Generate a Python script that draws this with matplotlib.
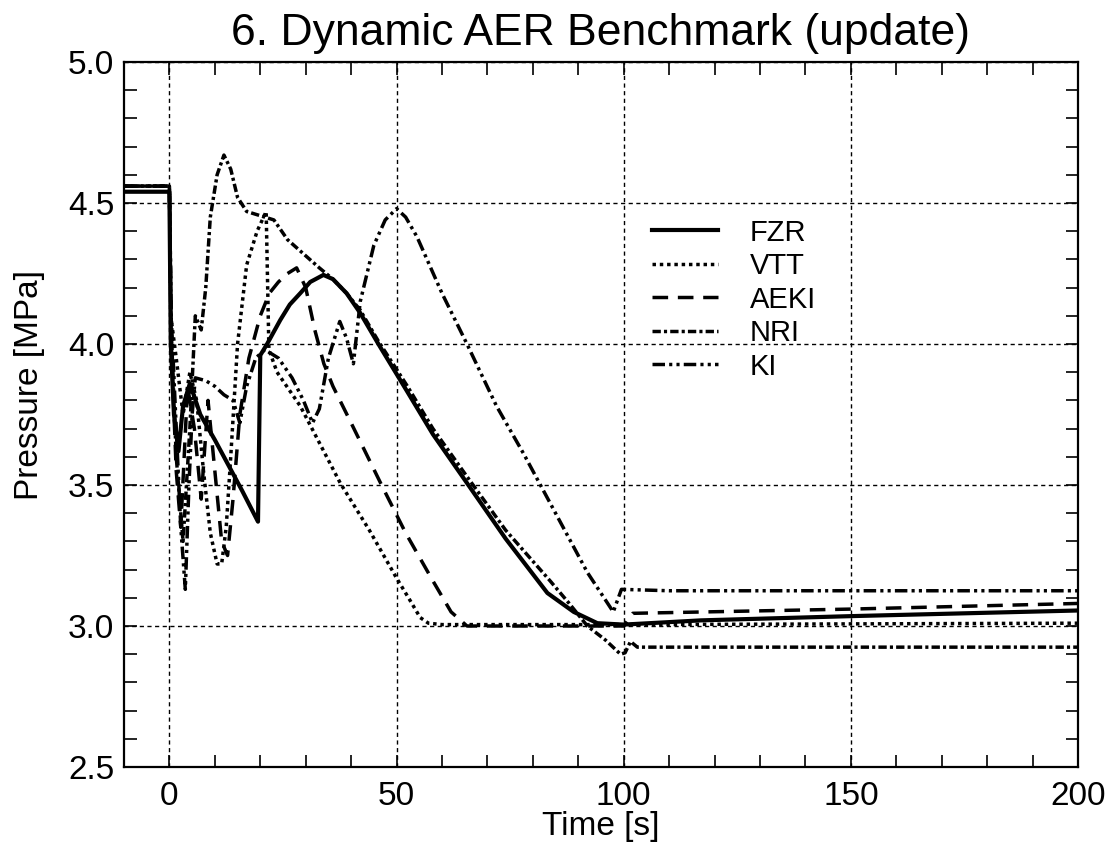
import matplotlib
matplotlib.use("Agg")
import matplotlib.pyplot as plt
from matplotlib.ticker import MultipleLocator

plt.rcParams['font.family'] = ['Liberation Sans', 'DejaVu Sans']

# === DATOS ===
fzr_t = [-10, 0, 0.3, 1.0, 2.0, 3.0, 4.5, 6.8, 10, 13, 16, 19.5, 20.0, 21.5, 24.4, 26.5,
         28.8, 31, 33.9, 36, 39, 42, 46, 52.4, 58, 65.5, 74, 83.2, 89, 94.2, 100, 117, 150, 200]
fzr_p = [4.54, 4.54, 4.0, 3.75, 3.62, 3.78, 3.86, 3.75, 3.66, 3.57, 3.48, 3.37, 3.96, 4.0, 4.085, 4.14,
         4.18, 4.22, 4.245, 4.23, 4.18, 4.11, 4.00, 3.83, 3.68, 3.507, 3.31, 3.117, 3.05, 3.01, 3.005, 3.02, 3.035, 3.055]

vtt_t = [-10, 0, 0.3, 1.5, 3, 4.5, 6, 7.5, 9, 10.5, 11.5, 12.5, 13.5, 15, 17, 19.3, 21.3, 21.9,
         23.7, 28.8, 33, 37.6, 44, 50, 53, 55.2, 57, 60, 100, 200]
vtt_p = [4.56, 4.56, 4.1, 3.95, 3.75, 3.9, 3.8, 3.55, 3.33, 3.22, 3.22, 3.35, 3.6, 4.0, 4.28, 4.40, 4.47, 3.98,
         3.90, 3.78, 3.65, 3.507, 3.34, 3.17, 3.09, 3.03, 3.01, 3.005, 3.005, 3.01]

aeki_t = [-10, 0, 0.4, 1.5, 2.5, 4, 5.5, 7, 8.5, 10, 11.5, 12.8, 14, 15.5, 17.5, 20, 22, 24, 26, 28,
          30, 32, 34, 36, 40, 47, 52, 58, 62, 65.5, 100, 102, 150, 200]
aeki_p = [4.56, 4.56, 4.0, 3.55, 3.35, 3.85, 3.7, 3.45, 3.8, 3.55, 3.3, 3.25, 3.45, 3.75, 3.95, 4.1, 4.18, 4.22, 4.25, 4.27,
          4.2, 4.05, 3.93, 3.85, 3.72, 3.49, 3.33, 3.16, 3.05, 3.0, 3.0, 3.045, 3.06, 3.08]

nri_t = [-10, 0, 0.4, 1.5, 3, 4.5, 5.7, 7, 8, 9, 10.5, 12, 13.5, 15, 17, 19, 21, 23, 26, 29.5, 33, 36, 39,
         42, 46, 52.4, 58, 65.5, 74, 83.8, 88, 92, 96, 99.3, 100.3, 101.5, 103, 200]
nri_p = [4.56, 4.56, 4.05, 3.6, 3.3, 3.7, 4.1, 4.05, 4.2, 4.45, 4.6, 4.67, 4.62, 4.52, 4.47, 4.46, 4.45, 4.44, 4.37, 4.32, 4.27, 4.23, 4.18,
         4.12, 4.01, 3.85, 3.70, 3.53, 3.34, 3.16, 3.08, 3.0, 2.95, 2.90, 2.905, 2.945, 2.925, 2.925]

ki_t = [-10, 0, 0.4, 1.5, 2.5, 3.5, 4.3, 5.0, 5.7, 8, 10, 12, 14, 15.5, 17, 19, 21, 24, 27, 29.5, 31.5, 33, 35,
        37.5, 39, 40.5, 42, 45, 47.5, 50, 52, 54.5, 60, 65.5, 72, 78, 85, 92, 97.7, 99.5, 110, 200]
ki_p = [4.56, 4.56, 4.1, 3.7, 3.35, 3.13, 3.5, 3.75, 3.88, 3.87, 3.85, 3.82, 3.80, 3.72, 3.85, 3.95, 3.98, 3.95, 3.88, 3.8, 3.72, 3.77, 3.95,
        4.08, 4.02, 3.93, 4.15, 4.35, 4.44, 4.48, 4.45, 4.38, 4.18, 4.0, 3.78, 3.61, 3.40, 3.19, 3.05, 3.13, 3.125, 3.125]

# === GRÁFICO ===
fig = plt.figure(figsize=(11.2, 8.59), dpi=100)
ax = fig.add_axes([0.1107, 0.1071, 0.8518, 0.8207])

ax.plot(fzr_t, fzr_p, color='black', linewidth=3.0, linestyle='-', label='FZR')
ax.plot(vtt_t, vtt_p, color='black', linewidth=2.5, linestyle=(0, (1, 1.1)), label='VTT')
ax.plot(aeki_t, aeki_p, color='black', linewidth=2.5, linestyle=(0, (4.5, 2.8)), label='AEKI')
ax.plot(nri_t, nri_p, color='black', linewidth=2.5, linestyle=(0, (2.4, 0.9, 0.9, 0.9)), label='NRI')
ax.plot(ki_t, ki_p, color='black', linewidth=2.5, linestyle=(0, (3.6, 1.2, 0.9, 1.2, 0.9, 1.2)), label='KI')

ax.set_xlim(-10, 200)
ax.set_ylim(2.5, 5.0)
ax.xaxis.set_major_locator(MultipleLocator(50))
ax.xaxis.set_minor_locator(MultipleLocator(10))
ax.yaxis.set_major_locator(MultipleLocator(0.5))
ax.yaxis.set_minor_locator(MultipleLocator(0.1))
ax.yaxis.set_major_formatter(matplotlib.ticker.FormatStrFormatter('%.1f'))

ax.tick_params(which='both', direction='in', top=True, right=True, length=9, width=1.2,
               labelsize=24, color='black')
ax.tick_params(axis='x', pad=10)
ax.tick_params(axis='y', pad=7)
for s in ax.spines.values():
    s.set_linewidth(1.6)

ax.grid(True, which='major', color='black', linestyle=(0, (3, 2.5)), linewidth=1.0)

ax.set_title("6. Dynamic AER Benchmark (update)", fontsize=32, pad=12)
ax.set_xlabel("Time [s]", fontsize=24, labelpad=-1)
ax.set_ylabel("Pressure [MPa]", fontsize=24)
ax.yaxis.set_label_coords(-0.083, 0.542)

ax.legend(loc='upper left', bbox_to_anchor=(0.5535, 0.778), frameon=False, fontsize=21,
          handlelength=2.26, handletextpad=1.1, labelspacing=0.19, borderpad=0, borderaxespad=0)

plt.savefig("out.png", dpi=100)
